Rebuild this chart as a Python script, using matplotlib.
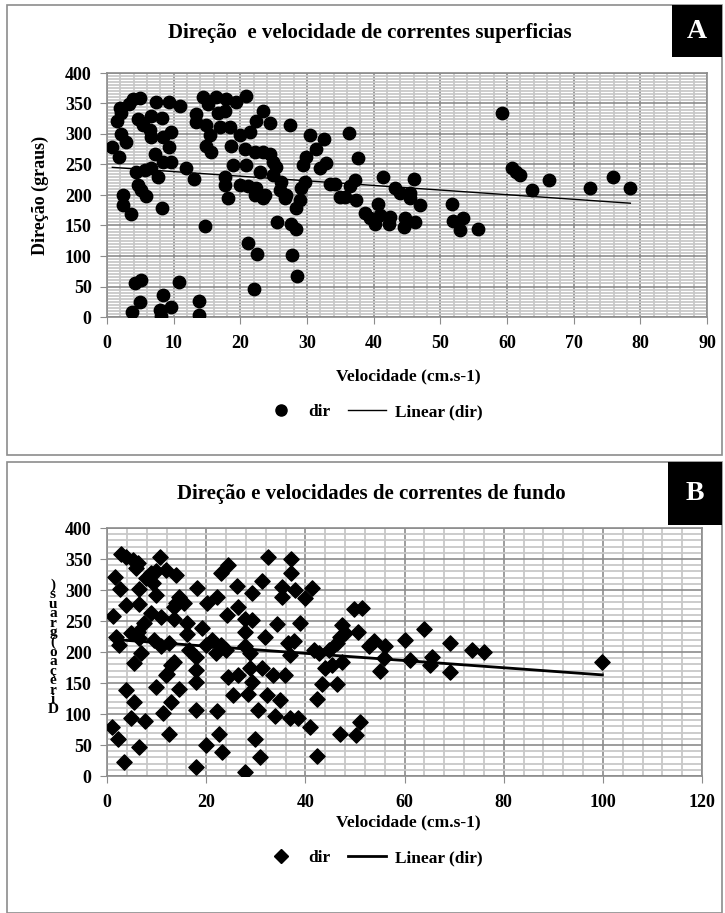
import matplotlib
matplotlib.use("Agg")
import matplotlib.pyplot as plt
from matplotlib.patches import Rectangle
from matplotlib.lines import Line2D
import numpy as np

plt.rcParams['font.family'] = ['Liberation Serif', 'DejaVu Serif']
plt.rcParams['font.weight'] = 'bold'

# painel A - correntes superficiais
vel_a = [4.9, 3.9, 3.3, 1.9, 2.15, 1.5, 4.65, 5.4, 6.4, 6.65, 7.4, 9.3, 10.9, 6.65, 8.3,
         9.65, 8.4, 9.3, 2.15, 2.9, 0.8, 1.8, 7.15, 8.4, 9.65, 4.4, 5.65, 6.65, 7.65, 4.65,
         5.15, 5.9, 2.4, 2.4, 3.65, 8.3, 11.9, 13.05, 14.65, 4.15, 5.15, 4.9, 3.8, 8.4, 7.9,
         8.15, 9.55, 10.75, 13.8, 13.8, 14.4, 15.15, 16.4, 17.9, 19.3, 20.9, 16.65, 17.65, 13.4,
         13.4, 14.9, 16.9, 18.4, 15.4, 14.9, 15.65, 19.9, 21.4, 18.65, 20.65, 22.15, 23.4, 22.4,
         24.4, 23.4, 24.4, 18.9, 20.9, 22.9, 17.65, 17.65, 19.9, 21.15, 22.4, 22.15, 23.65, 23.4,
         18.15, 24.9, 25.4, 24.9, 26.15, 25.9, 26.9, 26.65, 27.4, 21.15, 22.5, 22.05, 25.5, 27.65,
         28.4, 27.8, 28.55, 28.4, 28.9, 29.15, 29.4, 29.9, 29.65, 30.4, 31.4, 32.5, 31.9, 32.9,
         33.4, 34.15, 34.9, 35.65, 36.3, 37.65, 37.15, 36.4, 37.3, 38.65, 39.4, 40.15, 40.65, 41.4,
         40.9, 42.4, 42.3, 43.15, 43.9, 44.65, 44.5, 45.4, 46.1, 46.15, 46.9, 45.4, 51.8, 51.9,
         53.4, 53.0, 55.7, 59.2, 60.7, 61.4, 61.9, 63.8, 66.3, 72.4, 75.9, 78.5]
dir_a = [359, 357, 349, 343, 335, 322, 325, 314, 306, 295, 352, 352, 346, 330, 327,
         303, 295, 279, 300, 287, 279, 262, 268, 254, 254, 238, 241, 244, 230, 217,
         209, 198, 200, 184, 169, 179, 245, 226, 149, 55, 60, 24, 9, 36, 12,
         2, 16, 58, 27, 4, 360, 349, 360, 357, 353, 362, 335, 338, 333,
         319, 314, 311, 311, 298, 281, 271, 298, 304, 281, 275, 271, 338, 322,
         318, 271, 268, 249, 249, 238, 230, 216, 217, 214, 211, 200, 200, 195,
         195, 254, 246, 233, 222, 209, 200, 195, 314, 122, 103, 46, 156, 152,
         144, 101, 68, 179, 192, 211, 249, 263, 222, 298, 275, 292, 244, 252,
         218, 218, 196, 196, 302, 260, 225, 214, 192, 171, 163, 152, 185, 229,
         168, 164, 152, 212, 203, 163, 147, 203, 227, 155, 184, 195, 185, 158,
         163, 142, 144, 334, 244, 238, 232, 209, 225, 212, 229, 211]

# painel B - correntes de fundo
vel_b = [2.9, 3.9, 5.2, 6.2, 5.9, 10.7, 8.9, 7.9, 9.9, 11.9, 13.9, 9.2, 1.7, 2.7, 6.5,
         9.9, 14.5, 15.5, 13.9, 13.5, 3.9, 6.5, 8.9, 10.9, 13.5, 16.2, 7.5, 1.3, 1.9, 2.5,
         4.9, 6.2, 6.5, 9.5, 10.9, 12.5, 16.2, 16.5, 5.5, 6.9, 13.5, 12.9, 11.9, 17.9, 17.9,
         17.9, 18.2, 20.2, 22.2, 22.9, 24.5, 26.2, 24.2, 26.5, 27.9, 29.2, 27.9, 29.2, 31.2,
         32.5, 37.2, 37.2, 35.2, 35.2, 38.0, 34.2, 19.2, 21.2, 22.9, 23.9, 19.9, 21.9, 24.5,
         26.5, 27.9, 28.9, 31.9, 36.5, 36.9, 28.9, 31.2, 29.2, 28.5, 25.5, 33.5, 35.9, 32.2,
         34.9, 30.5, 33.9, 36.9, 38.5, 12.2, 9.9, 14.5, 12.9, 17.9, 22.2, 3.9, 5.5, 4.9,
         7.7, 11.2, 1.1, 2.2, 6.5, 12.5, 19.9, 22.5, 23.2, 3.5, 17.9, 27.9, 29.9, 30.9,
         41.3, 40.0, 39.0, 37.7, 41.0, 42.3, 47.0, 50.2, 51.1, 42.3, 43.4, 46.4, 44.0, 45.4,
         47.4, 41.7, 42.7, 44.7, 46.4, 47.0, 48.1, 47.4, 50.7, 49.9, 51.4, 52.8, 53.8, 55.1,
         56.1, 55.8, 60.1, 61.1, 64.0, 65.5, 65.2, 69.1, 69.1, 73.6, 76.0, 99.9]
dir_b = [358, 353, 349, 343, 335, 353, 327, 319, 330, 333, 325, 311, 321, 301, 301,
         292, 289, 279, 279, 273, 276, 278, 263, 256, 254, 246, 247, 258, 225, 211,
         230, 233, 222, 219, 209, 214, 229, 203, 183, 198, 184, 179, 163, 192, 171,
         152, 303, 279, 289, 327, 341, 307, 260, 273, 254, 252, 233, 295, 314,
         354, 350, 328, 305, 289, 300, 245, 238, 219, 211, 203, 211, 198, 160,
         163, 209, 198, 225, 214, 195, 174, 175, 152, 133, 130, 163, 163, 130,
         123, 106, 96, 93, 94, 165, 144, 140, 120, 106, 105, 139, 120, 93,
         89, 101, 79, 60, 47, 68, 50, 68, 39, 23, 15, 6, 60, 30,
         303, 287, 246, 217, 79, 33, 68, 66, 87, 125, 148, 149, 174, 179,
         184, 203, 199, 203, 214, 225, 230, 244, 233, 269, 271, 210, 217, 170,
         209, 190, 220, 187, 237, 192, 179, 214, 168, 204, 200, 184]

W, H = 725, 913
fig = plt.figure(figsize=(W / 100, H / 100), dpi=100)


def fx(px):
    return px / W


def fy(py):
    return 1 - py / H


def painel(y0, y1, letra, by1, bx0):
    fig.add_artist(Rectangle((fx(7), fy(y1)), fx(715), (y1 - y0) / H,
                             transform=fig.transFigure, fill=False,
                             ec='#8c8c8c', lw=1.2))
    fig.add_artist(Rectangle((fx(bx0), fy(by1)), fx(722 - bx0), (by1 - y0) / H,
                             transform=fig.transFigure, fc='black', ec='none'))
    fig.text(fx((bx0 + 722) / 2), fy((y0 + by1) / 2), letra, color='white',
             fontsize=20, fontweight='bold', ha='center', va='center')


def eixo(ax, xmax, xmaj, xmin, ymin_step, vel, dire, marker, ms, lw_fit):
    ax.set_xlim(0, xmax)
    ax.set_ylim(0, 400)
    ax.set_xticks(np.arange(0, xmax + 1, xmaj))
    ax.set_xticks(np.arange(0, xmax + 0.1, xmin), minor=True)
    ax.set_yticks(np.arange(0, 401, 50))
    ax.set_yticks(np.arange(0, 401, ymin_step), minor=True)
    ax.grid(which='minor', color='#c8c8c8', lw=1.3)
    ax.grid(which='major', color='#8c8c8c', lw=1.2)
    ax.set_axisbelow(True)
    for s in ax.spines.values():
        s.set_color('#8c8c8c')
        s.set_linewidth(1.2)
    ax.tick_params(which='minor', length=0)
    ax.tick_params(which='major', length=5, color='#8c8c8c', labelsize=13)
    ax.tick_params(axis='x', pad=8)
    ax.tick_params(axis='y', pad=6)
    for lab in ax.get_xticklabels() + ax.get_yticklabels():
        lab.set_fontweight('bold')
    ax.scatter(vel, dire, marker=marker, s=ms, color='black', zorder=3)
    coef = np.polyfit(vel, dire, 1)
    xs = np.array([min(vel), max(vel)])
    ax.plot(xs, np.polyval(coef, xs), color='black', lw=lw_fit, zorder=4)


# ---- A ----
painel(5, 455, 'A', 57, 672)
fig.text(fx(370), fy(33), 'Direção  e velocidade de correntes superficias',
         fontsize=15, fontweight='bold', ha='center', va='center')
axA = fig.add_axes([fx(107), fy(317), 600 / W, 244 / H])
eixo(axA, 90, 10, 2, 5, vel_a, dir_a, 'o', 80, 1.0)
fig.text(fx(40), fy(195), 'Direção (graus)', rotation=90, fontsize=13,
         fontweight='bold', ha='center', va='center')
fig.text(fx(408), fy(376), 'Velocidade (cm.s-1)', fontsize=12.5,
         fontweight='bold', ha='center', va='center')
hA = [Line2D([], [], marker='o', ls='none', color='black', ms=8),
      Line2D([], [], color='black', lw=1.0)]
fig.legend(hA, ['dir', 'Linear (dir)'], loc='center', bbox_to_anchor=(fx(372), fy(412)),
           ncol=2, frameon=False, prop={'weight': 'bold', 'size': 12.5},
           handlelength=2.2, columnspacing=1.0, handletextpad=0.5)

# ---- B ----
painel(462, 913, 'B', 525, 668)
fig.text(fx(371), fy(494), 'Direção e velocidades de correntes de fundo',
         fontsize=15, fontweight='bold', ha='center', va='center')
axB = fig.add_axes([fx(107), fy(776), 595 / W, 248 / H])
eixo(axB, 120, 20, 4, 10, vel_b, dir_b, 'D', 60, 2.0)
rotulo = 'Direção (graus)'
fig.text(fx(53), fy(647), '\n'.join(reversed(rotulo.replace(' ', ''))), fontsize=11,
         fontweight='bold', ha='center', va='center', linespacing=0.65)
fig.text(fx(408), fy(822), 'Velocidade (cm.s-1)', fontsize=12.5,
         fontweight='bold', ha='center', va='center')
hB = [Line2D([], [], marker='D', ls='none', color='black', ms=7),
      Line2D([], [], color='black', lw=2.0)]
fig.legend(hB, ['dir', 'Linear (dir)'], loc='center', bbox_to_anchor=(fx(372), fy(858)),
           ncol=2, frameon=False, prop={'weight': 'bold', 'size': 12.5},
           handlelength=2.2, columnspacing=1.0, handletextpad=0.5)

fig.savefig('out.png', dpi=100)
